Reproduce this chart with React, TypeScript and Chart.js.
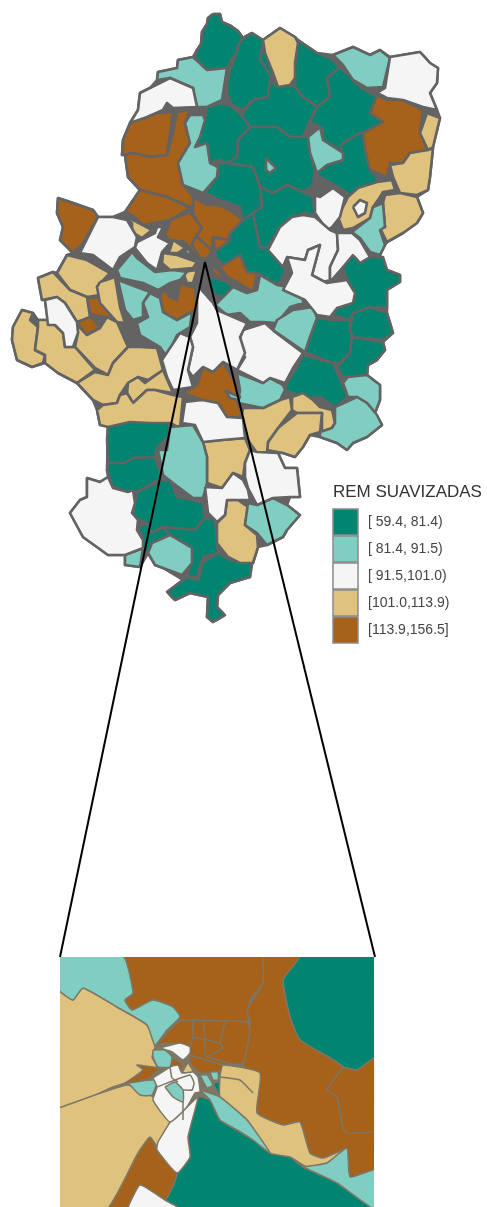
import React, { useEffect, useRef } from "react";
import { Chart, registerables } from "chart.js";

Chart.register(...registerables);

const legendTitle = "REM SUAVIZADAS";
const classLabels = ["[ 59.4, 81.4)", "[ 81.4, 91.5)", "[ 91.5,101.0)", "[101.0,113.9)", "[113.9,156.5]"];
const classColours = ["#018571", "#80CDC1", "#F5F5F5", "#DFC27D", "#A6611A"];
const outlineColour = "#636363";
const insetOutlineColour = "#7d7766";

const mapSilhouette = [
  213,14,220,14,222,22,231,26,238,31,243,38,252,33,263,40,280,28,295,37,298,40,317,53,333,55,353,47,370,55,380,50,390,57,420,52,430,63,438,68,437,83,430,93,437,110,440,118,433,147,430,177,428,190,417,197,423,213,417,223,403,233,387,242,385,245,380,255,387,270,400,275,400,282,387,290,387,308,387,313,393,333,383,342,385,350,377,360,368,365,367,375,380,385,380,400,375,413,382,425,367,437,353,443,347,450,337,443,320,437,310,435,303,447,295,457,283,453,278,453,285,468,297,468,300,497,290,497,287,505,300,515,287,530,283,537,267,545,258,547,253,563,252,563,250,577,230,583,218,595,217,607,225,615,213,622,207,617,208,597,190,593,175,600,167,592,183,580,163,568,155,565,148,553,140,567,125,565,125,555,113,555,108,555,83,537,70,513,80,500,87,497,87,478,100,482,108,477,107,470,108,425,100,425,97,410,93,400,77,383,58,373,45,363,32,367,17,360,12,340,13,327,22,310,33,313,38,320,48,320,45,300,42,300,38,278,53,272,57,273,67,255,73,253,60,240,63,227,57,213,58,198,73,203,93,210,98,217,113,217,125,212,140,190,128,177,125,155,122,155,123,140,130,123,138,110,140,93,150,88,157,80,158,72,177,68,178,60,193,57,197,50,201,44,202,32,207,24,208,18,
];

const mapClass1 = [
  [213,14,220,14,222,22,231,26,238,31,243,38,238,46,236,55,231,60,228,68,222,71,214,70,207,70,200,63,195,57,197,50,201,44,202,32,207,24,208,18],
  [252,33,263,40,262,48,260,60,266,68,272,78,268,97,253,100,243,110,233,106,227,95,227,85,230,70,236,55,238,46,243,38],
  [263,40,265,53,273,73,272,80,266,68,260,60,262,48],
  [298,40,317,53,330,58,340,67,327,78,330,97,317,107,303,97,295,87,295,63],
  [270,80,278,87,290,85,295,87,303,97,317,107,310,120,303,137,290,137,277,127,250,127,240,117,253,100,268,97],
  [340,67,327,78,330,97,317,107,310,122,322,128,323,140,340,150,343,143,360,133,363,133,383,122,370,113,377,97,360,87,350,77],
  [323,140,340,150,343,143,360,133,363,133,365,150,370,170,377,178,378,182,358,188,352,197,343,190,320,177,317,173,327,165,343,160,343,153],
  [250,127,277,127,290,137,303,137,308,137,310,153,315,170,313,185,303,192,287,185,273,193,260,187,253,167,227,163,237,157,238,140],
  [207,107,222,103,233,107,243,117,250,127,238,140,237,157,227,163,220,160,210,163,207,145,195,147,200,133,205,117],
  [218,163,227,163,253,167,260,187,262,207,248,220,242,218,240,207,220,200,205,193,213,182,218,175],
  [260,187,273,193,287,185,303,192,313,197,315,215,305,213,292,217,280,227,268,247,260,248,253,213,262,207],
  [243,220,253,213,260,248,268,247,283,258,285,272,278,285,257,273,247,272,240,255,224,265,216,258,215,250,220,248,230,240,230,233],
  [208,277,225,281,233,287,233,296,218,296,210,290],
  [353,255,360,263,370,257,383,257,387,270,400,275,400,282,387,290,387,308,378,307,353,313,350,320,333,315,337,308,353,303,355,293,347,280,343,267],
  [353,313,370,307,387,313,393,333,383,340,353,337,350,330],
  [317,318,333,320,350,320,350,330,352,337,350,353,340,363,333,363,305,352,310,337],
  [352,337,383,342,385,350,377,360,368,365,367,375,343,377,337,367,350,353],
  [303,355,333,363,335,368,348,397,335,407,320,397,310,398,292,393,285,390,287,383,297,367],
  [108,425,128,420,152,422,168,420,172,433,157,448,155,457,133,458,125,463,108,463,107,440],
  [108,463,125,463,133,458,155,457,162,478,137,492,128,492,113,487,107,470],
  [137,492,162,480,170,480,177,497,193,500,203,503,205,518,195,530,163,527,152,533,147,523,133,517,135,503],
  [147,523,152,533,163,527,170,535,152,543,148,553,143,548,143,538,138,527],
  [163,527,195,530,205,518,215,520,218,553,203,557,197,577,188,577,192,548,170,535],
  [200,575,202,563,218,553,230,560,252,563,250,577,230,583,218,595,217,607,225,615,213,622,207,617,208,597,190,593,175,600,167,592,183,580,188,577,198,580],
];

const mapClass5 = [
  [377,95,387,100,403,100,423,110,420,133,428,150,410,153,403,163,390,163,387,177,370,170,365,150,363,133,383,122,370,113],
  [193,197,207,205,218,205,230,210,243,220,230,233,228,240,213,237,212,250,198,238,193,237,200,227,193,213],
  [213,238,230,240,220,248,215,250],
  [220,267,240,255,247,272,257,273,253,292,237,282,227,277],
  [183,393,197,385,203,367,213,372,223,362,238,387,237,400,243,418,227,417,218,403,202,400],
  [130,123,147,117,157,113,173,112,167,155,150,157,133,153,122,155,123,140],
  [177,112,190,110,185,123,190,143,180,160,182,183,193,197,193,208,167,197,140,190,128,177,125,155,133,153,150,157,167,155,173,133],
  [58,198,73,203,93,210,98,217,83,243,73,253,60,240,63,227,57,213],
  [140,190,167,197,190,208,170,220,143,225,132,215,125,212],
  [170,220,190,212,202,228,195,238,207,252,197,257,185,242,170,240,163,233],
  [195,237,198,238,212,250,208,258,200,258,192,245],
  [210,265,218,270,225,280,215,275],
  [160,295,165,290,170,297,177,300,180,283,195,288,197,310,192,312,177,320,163,312],
  [87,298,100,297,122,322,118,323,107,317,93,315,90,313],
  [78,322,90,315,100,328,87,335,80,328],
];

const mapClass4 = [
  [263,40,280,28,295,37,298,43,295,63,295,78,290,85,278,87,273,73,265,53],
  [427,113,440,118,433,147,428,150,420,133],
  [390,165,403,163,410,153,428,150,433,148,430,177,428,190,417,195,400,193,393,177],
  [338,217,345,203,348,197,358,188,377,182,392,180,395,190,383,192,380,197,373,207,370,218,353,228,343,230],
  [385,195,400,193,417,197,423,213,417,223,403,233,387,242,380,228,385,227,383,203],
  [292,397,303,393,313,400,320,407,332,410,335,423,332,428,322,432,322,413,297,413,292,410],
  [297,413,322,413,320,432,310,435,303,447,295,457,283,453,267,450,268,442,278,428],
  [243,408,263,408,280,400,290,397,292,410,278,428,268,442,267,452,257,453,250,443,240,427],
  [203,442,222,440,245,438,250,450,245,463,243,477,233,473,222,488,207,483,207,457],
  [227,500,238,500,248,507,245,525,257,535,258,547,253,563,240,563,228,557,217,543,217,523,225,515],
  [118,217,133,220,152,230,142,238,132,232,132,223],
  [163,233,170,222,165,235],
  [170,250,173,240,185,248,178,253,168,253],
  [163,253,177,255,197,262,193,268,170,270,162,263],
  [183,272,197,270,193,283,187,283],
  [67,255,87,260,110,273,97,287,100,295,87,297,70,290,57,273],
  [38,278,53,272,70,290,87,297,90,317,77,322,65,303,57,297,42,300],
  [100,282,115,277,120,307,125,323,117,322,100,303,97,287],
  [77,323,80,328,87,335,100,328,107,317,117,322,128,347,113,363,108,375,95,368,75,347,78,333],
  [13,327,22,310,33,313,30,320,38,327,35,350,45,355,43,363,32,367,17,360,12,340],
  [38,320,47,320,55,325,63,333,65,347,75,347,95,370,77,383,58,373,45,363,45,355,35,350,38,327],
  [128,347,140,347,157,348,163,370,148,380,138,377,128,383,120,395,117,403,103,405,93,400,77,383,95,372,108,375,113,363],
  [128,383,138,377,145,383,163,370,173,393,155,390,147,390,133,403,127,393],
  [97,410,103,405,117,403,120,395,127,393,133,403,147,390,155,390,173,395,183,397,180,428,170,423,150,423,130,422,108,427,100,425],
];

const mapClass2 = [
  [333,55,353,47,370,55,380,50,390,58,383,87,367,88,353,80,343,65],
  [320,127,323,140,343,153,343,160,327,165,317,173,310,153,308,137],
  [266,158,270,162,276,168,270,173,266,170],
  [215,305,233,287,247,293,257,290,260,275,277,285,287,287,303,297,303,303,290,307,277,323,263,322,250,322,240,313,227,315],
  [373,207,383,203,385,227,380,230,385,245,380,255,370,252,360,238,352,232,370,218],
  [313,307,317,318,310,337,305,352,273,330,277,320,293,310],
  [237,373,263,383,270,378,283,385,285,390,280,400,263,408,238,403,240,390],
  [348,377,367,375,380,385,380,400,375,413,367,403,357,397,348,397,343,383],
  [335,407,357,397,367,403,377,415,382,425,367,437,353,443,347,450,337,443,320,437,320,432,332,428,335,423],
  [225,390,228,392,240,397,238,400,230,398],
  [248,503,257,505,273,498,287,505,300,515,287,530,283,537,267,545,257,533,245,525],
  [170,427,193,425,203,442,207,457,207,483,203,498,193,498,173,483,163,475,158,450,167,450],
  [148,553,152,543,170,535,192,548,192,563,182,575,163,568,155,565],
  [125,555,143,548,140,567,125,565],
  [190,115,203,115,205,120,200,137,195,147,207,143,210,163,218,167,217,177,203,193,183,185,178,163,190,143,185,123],
  [158,72,177,68,178,60,193,57,207,70,227,68,222,100,207,107,197,107,193,88,170,78,157,80],
  [185,252,188,248,193,257],
  [117,270,132,252,137,258,155,272,173,270,187,272,180,280,170,283,158,290,143,283,120,278],
  [118,280,150,292,143,303,143,317,133,320,125,310],
  [150,293,160,298,163,312,177,320,192,312,190,327,177,335,167,357,160,347,140,335,137,323,148,317,143,303],
];

const mapClass3 = [
  [390,57,420,52,430,63,438,68,437,83,430,93,437,110,423,107,403,100,387,98,377,93,385,88],
  [308,193,320,197,333,188,345,197,340,217,332,227,327,230,315,213,315,197],
  [268,250,280,227,292,217,303,215,315,217,330,230,337,233,338,250,330,267,330,280,320,283,312,275,320,245,308,250,305,260,287,257,283,267],
  [337,233,352,233,360,240,370,257,360,263,353,255,343,267,330,282,330,267,338,250],
  [287,257,305,260,308,250,320,245,312,275,327,283,347,280,355,293,353,303,337,308,330,317,317,315,305,300,283,290,292,273],
  [353,207,360,200,367,203,365,213,358,217],
  [243,330,265,323,275,332,303,353,293,368,285,383,270,378,263,383,237,370,245,357,237,347],
  [197,285,213,303,217,310,247,323,240,337,245,353,237,370,223,362,213,372,203,367,193,377,188,370,193,347,190,337,197,323],
  [162,360,180,333,190,337,193,347,188,370,193,387,173,390,167,377],
  [185,402,202,400,218,403,227,417,243,418,245,438,222,440,203,442,195,425,182,423],
  [250,450,257,452,278,453,285,468,297,468,300,497,290,497,273,498,257,505,248,488,245,477,245,463],
  [205,487,222,488,233,473,243,480,248,490,250,500,238,500,227,500,225,515,217,522,208,513],
  [87,478,100,482,108,477,113,488,128,492,133,490,135,503,132,513,138,520,137,530,143,540,143,548,125,555,113,555,108,555,83,537,70,513,80,500,87,497],
  [130,123,138,110,140,93,150,88,170,78,193,88,197,107,173,108,167,103,163,110,147,117],
  [98,217,113,217,127,220,137,237,135,247,120,257,113,270,93,255,80,253,88,237],
  [137,242,155,233,157,227,163,227,158,237,170,243,162,252,157,270,147,263,135,248],
  [45,300,57,297,65,303,77,322,78,333,73,347,65,347,63,333,55,325,48,325],
];

const insetFrame = [59,956,375,956,375,1209,59,1209];
const insetClass1 = [
  [300,956,375,956,375,1058,357,1070,343,1067,300,1040,290,1017,283,980,295,963],
  [165,1200,177,1173,190,1157,188,1137,198,1097,210,1100,220,1120,237,1130,253,1140,270,1153,290,1157,303,1167,337,1183,375,1209,180,1209],
  [213,1083,220,1082,220,1097],
];
const insetClass5 = [
  [123,956,263,956,263,983,250,1000,247,1022,180,1020,173,1007,153,1000,132,1010,125,1000,133,993],
  [263,956,300,956,283,980,290,1017,300,1040,343,1067,327,1090,337,1097,345,1132,375,1130,375,1170,350,1177,345,1150,323,1158,310,1153,300,1122,283,1125,257,1113,253,1093,243,1063,250,1022,247,1010,263,983],
  [343,1067,357,1070,375,1058,375,1130,345,1132,337,1097,327,1090],
  [107,1209,138,1153,150,1137,157,1150,177,1173,165,1200,140,1185,127,1209],
  [180,1020,247,1022,250,1030,243,1063,223,1065,220,1072,200,1073,190,1063,190,1047,167,1043,157,1045,167,1033],
  [172,1057,183,1065,180,1072,170,1067],
  [138,1065,152,1057,158,1068,150,1078,127,1083],
];
const insetClass4 = [
  [59,990,73,1000,83,988,117,1007,147,1025,155,1047,152,1057,157,1067,137,1065,143,1070,125,1083,113,1087,59,1108],
  [59,1108,127,1085,153,1097,170,1122,158,1147,150,1137,138,1153,107,1209,59,1209],
  [220,1075,223,1065,260,1073,257,1113,283,1125,300,1122,310,1153,323,1158,343,1150,327,1163,307,1167,290,1157,270,1153,247,1120,220,1097],
  [182,1073,188,1063,193,1072],
];
const insetClass2 = [
  [59,956,123,956,133,993,125,1000,132,1010,153,1000,173,1007,180,1017,167,1030,155,1045,147,1025,117,1007,83,988,73,1000,59,990],
  [303,1167,327,1163,347,1148,350,1177,375,1170,375,1209,337,1183],
  [200,1090,220,1097,247,1120,270,1153,253,1140,237,1130,220,1120,210,1100],
  [153,1050,165,1050,172,1057,170,1067,158,1067,153,1057],
  [128,1083,157,1080,152,1095,140,1095],
  [200,1075,207,1075,213,1085,207,1088],
  [210,1072,218,1072,218,1080,213,1080],
];
const insetClass3 = [
  [127,1209,140,1185,165,1200,180,1209],
  [170,1122,187,1107,198,1097,188,1137,190,1157,177,1173,157,1150,158,1142],
  [160,1048,180,1043,190,1047,190,1053,183,1060,172,1052],
  [153,1078,170,1067,178,1065,182,1073,193,1072,198,1077,200,1092,195,1093,187,1107,170,1122,153,1100,157,1087],
];
const insetClass2Top = [[165,1087,175,1082,183,1090,183,1102,173,1097]];
const insetBoundaries = [
  [220,1077,240,1080,253,1093],
  [193,1022,193,1037,190,1047],
  [203,1022,205,1037,205,1053,207,1057],
  [225,1022,220,1043,223,1048,207,1057],
  [193,1037,220,1043],
  [190,1055,223,1065],
  [207,1057,242,1067],
  [157,1087,190,1075,194,1083,192,1090,183,1090],
  [170,1067,172,1078,178,1082],
  [183,1102,183,1120],
];
const insetMask = [54,951,380,951,380,1214,54,1214,54,951];
const zoomConnectors = [
  [205,262,60,957],
  [205,262,375,957],
];

const legendX = 333;
const legendTitleY = 492;
const legendSwatchTop = 509;
const legendSwatchW = 25;
const legendRowH = 27;
const legendTextX = 368;

const toPoints = (flat: number[], close = true) => {
  const pts: { x: number; y: number }[] = [];
  for (let i = 0; i < flat.length; i += 2) pts.push({ x: flat[i], y: flat[i + 1] });
  if (close) pts.push({ x: flat[0], y: flat[1] });
  return pts;
};

const polygonSets = (list: number[][], colour: string, stroke: string, width: number, tension = 0.001) =>
  list.map((flat) => ({
    data: toPoints(flat),
    showLine: true,
    fill: "shape",
    backgroundColor: colour,
    borderColor: stroke,
    borderWidth: width,
    borderJoinStyle: "round",
    pointRadius: 0,
    tension,
    clip: false,
  }));

const openSets = (list: number[][], stroke: string, width: number, tension = 0.001) =>
  list.map((flat) => ({
    data: toPoints(flat, false),
    showLine: true,
    fill: false,
    borderColor: stroke,
    borderWidth: width,
    pointRadius: 0,
    tension,
    clip: false,
  }));

const legendPlugin = {
  id: "mapLegend",
  afterDraw(chart: any) {
    const ctx = chart.ctx;
    ctx.save();
    ctx.textBaseline = "middle";
    ctx.fillStyle = "#333333";
    ctx.font = '17px "Liberation Sans"';
    ctx.fillText(legendTitle, legendX, legendTitleY);
    ctx.font = '14px "Liberation Sans"';
    classLabels.forEach((label, i) => {
      const top = legendSwatchTop + i * legendRowH;
      ctx.fillStyle = classColours[i];
      ctx.fillRect(legendX, top, legendSwatchW, legendRowH - 1);
      ctx.strokeStyle = "#8a8a8a";
      ctx.lineWidth = 1.5;
      ctx.strokeRect(legendX, top, legendSwatchW, legendRowH - 1);
      ctx.fillStyle = "#444444";
      ctx.fillText(label, legendTextX, top + legendRowH / 2);
    });
    ctx.restore();
  },
};

export default function App() {
  const ref = useRef<HTMLCanvasElement>(null);
  useEffect(() => {
    const mapW = 2.6;
    const insetW = 1.5;
    const t = 0.15;
    const c = classColours;
    const layers = [
      ...polygonSets([mapSilhouette], outlineColour, outlineColour, mapW),
      ...polygonSets(mapClass1, c[0], outlineColour, mapW),
      ...polygonSets(mapClass5, c[4], outlineColour, mapW),
      ...polygonSets(mapClass4, c[3], outlineColour, mapW),
      ...polygonSets(mapClass2, c[1], outlineColour, mapW),
      ...polygonSets(mapClass3, c[2], outlineColour, mapW),
      ...polygonSets([insetFrame], insetOutlineColour, insetOutlineColour, 0),
      ...polygonSets(insetClass1, c[0], insetOutlineColour, insetW, t),
      ...polygonSets(insetClass5, c[4], insetOutlineColour, insetW, t),
      ...polygonSets(insetClass4, c[3], insetOutlineColour, insetW, t),
      ...polygonSets(insetClass2, c[1], insetOutlineColour, insetW, t),
      ...polygonSets(insetClass3, c[2], insetOutlineColour, insetW, t),
      ...polygonSets(insetClass2Top, c[1], insetOutlineColour, insetW, t),
      ...openSets(insetBoundaries, insetOutlineColour, insetW, t),
      ...openSets([insetMask], "#FFFFFF", 12),
      ...openSets(zoomConnectors, "#000000", 2),
    ];
    const chart = new Chart(ref.current!, {
      type: "scatter",
      data: { datasets: layers.reverse() as any },
      options: {
        animation: false,
        responsive: false,
        events: [],
        layout: { padding: 0 },
        scales: {
          x: { type: "linear", min: 0, max: 487, display: false },
          y: { type: "linear", min: 0, max: 1207, reverse: true, display: false },
        },
        plugins: { legend: { display: false }, tooltip: { enabled: false } },
      },
      plugins: [legendPlugin],
    } as any);
    return () => chart.destroy();
  }, []);
  return (
    <div style={{ position: "absolute", left: 0, top: 0, width: 487, height: 1207 }}>
      <canvas ref={ref} width={487} height={1207} style={{ display: "block" }} />
    </div>
  );
}
